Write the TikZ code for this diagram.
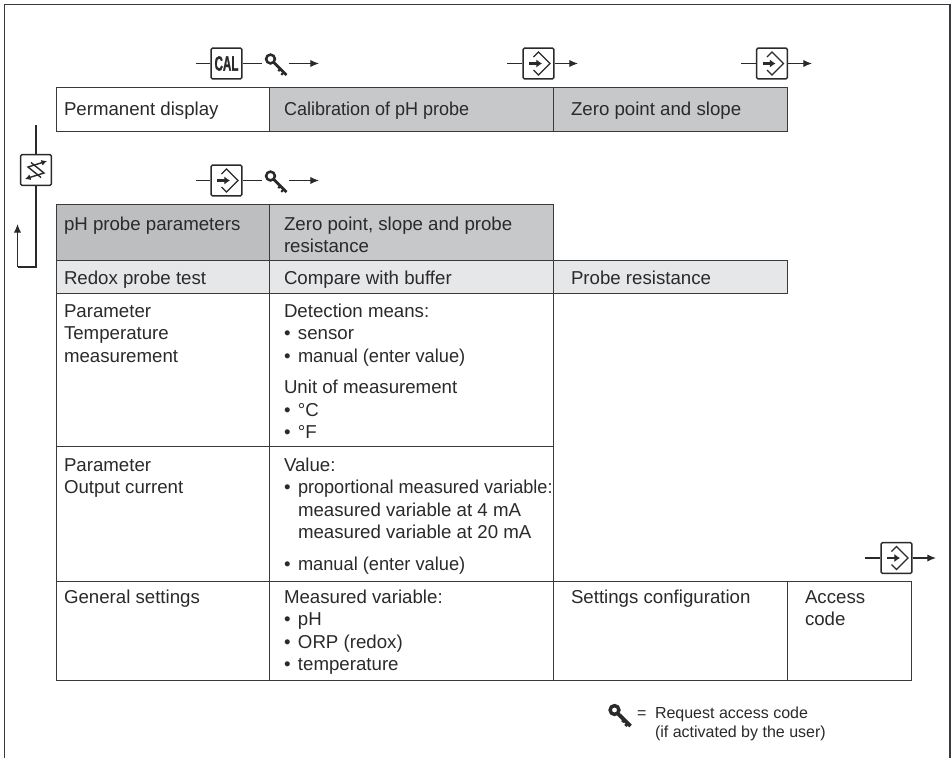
\documentclass[tikz,border=0pt]{standalone}
\usepackage{fontspec}
\setmainfont{Liberation Sans}
\newfontfamily\calfont[UprightFont={* Bold},FakeBold=1.5]{Liberation Sans}
\usetikzlibrary{arrows.meta}
\definecolor{ink}{HTML}{2B292A}
\definecolor{rule}{HTML}{3A3A3C}
\definecolor{grayA}{HTML}{C7C8CA}
\definecolor{grayB}{HTML}{BDBEC0}
\definecolor{grayC}{HTML}{E6E7E8}
\newcommand{\bul}{\makebox[10.5pt][l]{\textbullet}}
\newcommand{\ind}{\hspace*{10.5pt}}
\newcommand{\fitx}[2]{\scalebox{#1}[1]{#2}}
\tikzset{
  txt/.style={anchor=north west,inner sep=0pt,outer sep=0pt,align=left,text=ink,yshift=11.8125pt,
    font=\fontsize{14}{16.875}\selectfont},
  small/.style={anchor=north west,inner sep=0pt,outer sep=0pt,align=left,text=ink,yshift=9.975pt,
    font=\fontsize{12}{14.25}\selectfont},
  cellbox/.style={draw=rule,line width=.95pt},
  btn/.style={draw=ink,fill=white,line width=1.05pt,rounded corners=1pt,minimum size=23pt,inner sep=0pt,text=ink},
  keyspot/.style={inner sep=0pt,minimum width=20.5pt,minimum height=16pt},
  wire/.style={draw=ink,line width=.95pt},
  go/.style={wire,-{Latex[length=6.5pt,width=5.5pt]}},
  pics/enter/.style={code={
    \draw[ink,line width=.9pt,line join=miter] (-5,-6.5) -- (0,-11.5) -- (11.5,0) -- (0,11.5) -- (-5,6.5);
    \draw[ink,line width=1.7pt,-{Latex[length=4.2pt,width=6.2pt]}] (-9.5,0) -- (3.5,0);
  }},
  pics/swap/.style={code={
    \draw[ink,line width=1.05pt,-{Latex[length=4.2pt,width=4.5pt]}] (-5,-7.5) -- (8,3) -- (-8,8) -- (-11,9);
    \draw[ink,line width=1.05pt,-{Latex[length=4.2pt,width=4.5pt]}] (5,7.5) -- (-8,-3) -- (8,-8) -- (11,-9);
  }},
  pics/keyicon/.style={code={
    \draw[ink,line width={#1*1.9pt}] (-5,-4.5) circle (4.4);
    \draw[ink,line width={#1*2.1pt}] (-2,-1.3) -- (11,11.5);
    \draw[ink,line width={#1*1.6pt}] (5,5) -- (2.8,7.6);
    \draw[ink,line width={#1*1.6pt}] (8.6,8.6) -- (5.8,11.4);
  }},
}
\begin{document}
\begin{tikzpicture}[x=.75pt,y=-.75pt]
\useasboundingbox (0,0) rectangle (951,758);
% frame, open at the bottom
\draw[rule,line width=1.1pt] (4.5,758) -- (4.5,4.5) -- (950,4.5) -- (950,758);
% table cells
\draw[cellbox] (56.5,87.5) rectangle (269.5,131.5);
\draw[cellbox,fill=grayA] (269.5,87.5) rectangle (553.5,131.5);
\draw[cellbox,fill=grayA] (553.5,87.5) rectangle (787.5,131.5);
\draw[cellbox,fill=grayB] (56.5,204.5) rectangle (269.5,260.5);
\draw[cellbox,fill=grayA] (269.5,204.5) rectangle (553.5,260.5);
\draw[cellbox,fill=grayC] (56.5,260.5) rectangle (269.5,293.5);
\draw[cellbox,fill=grayC] (269.5,260.5) rectangle (553.5,293.5);
\draw[cellbox,fill=grayC] (553.5,260.5) rectangle (787.5,293.5);
\draw[cellbox] (56.5,293.5) rectangle (269.5,446.5);
\draw[cellbox] (269.5,293.5) rectangle (553.5,446.5);
\draw[cellbox] (56.5,446.5) rectangle (269.5,581.5);
\draw[cellbox] (269.5,446.5) rectangle (553.5,581.5);
\draw[cellbox] (56.5,581.5) rectangle (269.5,680.5);
\draw[cellbox] (269.5,581.5) rectangle (553.5,680.5);
\draw[cellbox] (553.5,581.5) rectangle (787.5,680.5);
\draw[cellbox] (787.5,581.5) rectangle (911.5,680.5);
% table texts
\node[txt] (t1) at (64,115) {\strut Permanent display};
\node[txt] (t2) at (284,115) {\strut \fitx{.965}{Calibration of pH probe}};
\node[txt] (t3) at (571,115) {\strut Zero point and slope};
\node[txt] (t4) at (64,230) {\strut pH probe parameters};
\node[txt] (t5) at (284,230) {\strut Zero point, slope and probe\\resistance};
\node[txt] (t6) at (64,284.5) {\strut Redox probe test};
\node[txt] (t7) at (284,284.5) {\strut Compare with buffer};
\node[txt] (t8) at (571,284.5) {\strut Probe resistance};
\node[txt] (t9) at (64,317) {\strut Parameter\\Temperature\\measurement};
\node[txt] (t10) at (284,317) {\strut Detection means:\\\bul sensor\\\bul \fitx{.977}{manual (enter value)}\\[7.1pt]Unit of measurement\\\bul °C\\\bul °F};
\node[txt] (t11) at (64,471) {\strut Parameter\\Output current};
\node[txt] (t12) at (284,471) {\strut Value:\\\bul \fitx{.97}{proportional measured variable:}\\\ind measured variable at 4 mA\\\ind measured variable at 20 mA\\[7pt]\bul \fitx{.977}{manual (enter value)}};
\node[txt] (t13) at (64,603) {\strut General settings};
\node[txt] (t14) at (284,603) {\strut Measured variable:\\\bul pH\\\bul ORP (redox)\\\bul temperature};
\node[txt] (t15) at (571,603) {\strut Settings configuration};
\node[txt] (t16) at (805,603) {\strut Access\\code};
% top row of keys
\coordinate (calin) at (196,63.5);
\node[btn] (cal) at (226.5,63.5) {\fontsize{15.5}{16}\calfont\scalebox{.56}[1]{CAL}};
\node[keyspot] (key1) at (275.5,63.5) {};
\pic at (key1.center) {keyicon=1};
\coordinate (calout) at (319,63.5);
\draw[wire] (calin) -- (cal);
\draw[wire] (cal) -- (key1);
\draw[go] (key1) -- (calout);
\coordinate (e1in) at (507,63.5);
\node[btn] (e1) at (538.5,63.5) {};
\pic at (e1.center) {enter};
\coordinate (e1out) at (578,63.5);
\draw[wire] (e1in) -- (e1);
\draw[go] (e1) -- (e1out);
\coordinate (e2in) at (741,63.5);
\node[btn] (e2) at (772,63.5) {};
\pic at (e2.center) {enter};
\coordinate (e2out) at (812,63.5);
\draw[wire] (e2in) -- (e2);
\draw[go] (e2) -- (e2out);
% second row of keys
\coordinate (e3in) at (196,180.5);
\node[btn] (e3) at (226.5,180.5) {};
\pic at (e3.center) {enter};
\node[keyspot] (key2) at (275.5,180.5) {};
\pic at (key2.center) {keyicon=1};
\coordinate (e3out) at (319,180.5);
\draw[wire] (e3in) -- (e3);
\draw[wire] (e3) -- (key2);
\draw[go] (key2) -- (e3out);
% right key
\coordinate (e4in) at (865,558);
\node[btn] (e4) at (896.5,558) {};
\pic at (e4.center) {enter};
\coordinate (e4out) at (936,558);
\draw[wire] (e4in) -- (e4);
\draw[go] (e4) -- (e4out);
% left loop
\coordinate (loopin) at (36,125);
\node[btn] (sw) at (36,170) {};
\pic at (sw.center) {swap};
\coordinate (loopcorner) at (36,267);
\coordinate (loopturn) at (17.5,267);
\coordinate (loopout) at (17.5,224);
\draw[wire] (loopin) -- (sw);
\draw[wire,line join=miter] (sw) -- (loopcorner) -- (loopturn);
\draw[go] (loopturn) -- (loopout);
% legend
\node[keyspot] (key3) at (619.5,714.5) {};
\pic at (key3.center) {keyicon=1.35};
\node[small] (eq) at (637,718) {\strut =};
\node[small] (legend) at (655,718) {\strut Request access code\\(if activated by the user)};
\end{tikzpicture}
\end{document}
